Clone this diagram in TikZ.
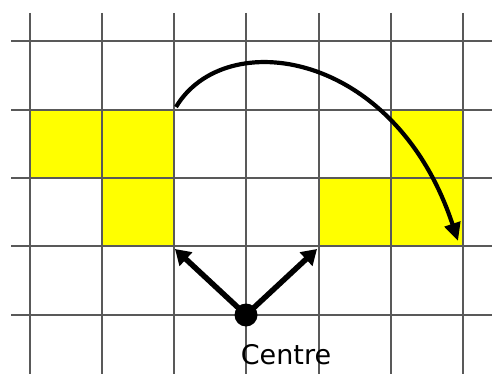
\documentclass[tikz,border=0pt]{standalone}
\usepackage{fontspec}
\setmainfont{DejaVu Sans}
\usetikzlibrary{arrows.meta}
\definecolor{cellyellow}{RGB}{255,255,0}
\begin{document}
\begin{tikzpicture}[x=1pt,y=-1pt,
  gridline/.style={draw=black!65,line width=1.1pt},
  cell/.style={fill=cellyellow,draw=none},
  arr/.style={line width=5.5pt,-{Triangle[length=15pt,width=18pt]}},
  curvearr/.style={line width=4.2pt,-{Triangle[length=18pt,width=16pt]}}]
\useasboundingbox (0,0) rectangle (492,374);
% yellow cells
\fill[cell] (30,110) rectangle (174,178);
\fill[cell] (391,110) rectangle (463,178);
\fill[cell] (102,178) rectangle (174,246);
\fill[cell] (319,178) rectangle (463,246);
% grid
\foreach \x in {30,102,174,246,319,391,463} \draw[gridline] (\x,13) -- (\x,374);
\foreach \y in {41,110,178,246,315} \draw[gridline] (11,\y) -- (492,\y);
% centre
\fill (246,315) circle (11.5);
\node[inner sep=0pt] (c) at (246,315) {};
\coordinate (a1) at (175,249);
\coordinate (a2) at (317,249);
\draw[arr] (c) -- (a1);
\draw[arr] (c) -- (a2);
\node[anchor=base,inner sep=0pt,font=\fontsize{27}{30}\selectfont] (lbl) at (286,364) {Centre};
% curve
\coordinate (s) at (176,107);
\coordinate (e) at (458,241);
\draw[curvearr] (s) .. controls (225,25) and (395,50) .. (e);
\end{tikzpicture}
\end{document}
